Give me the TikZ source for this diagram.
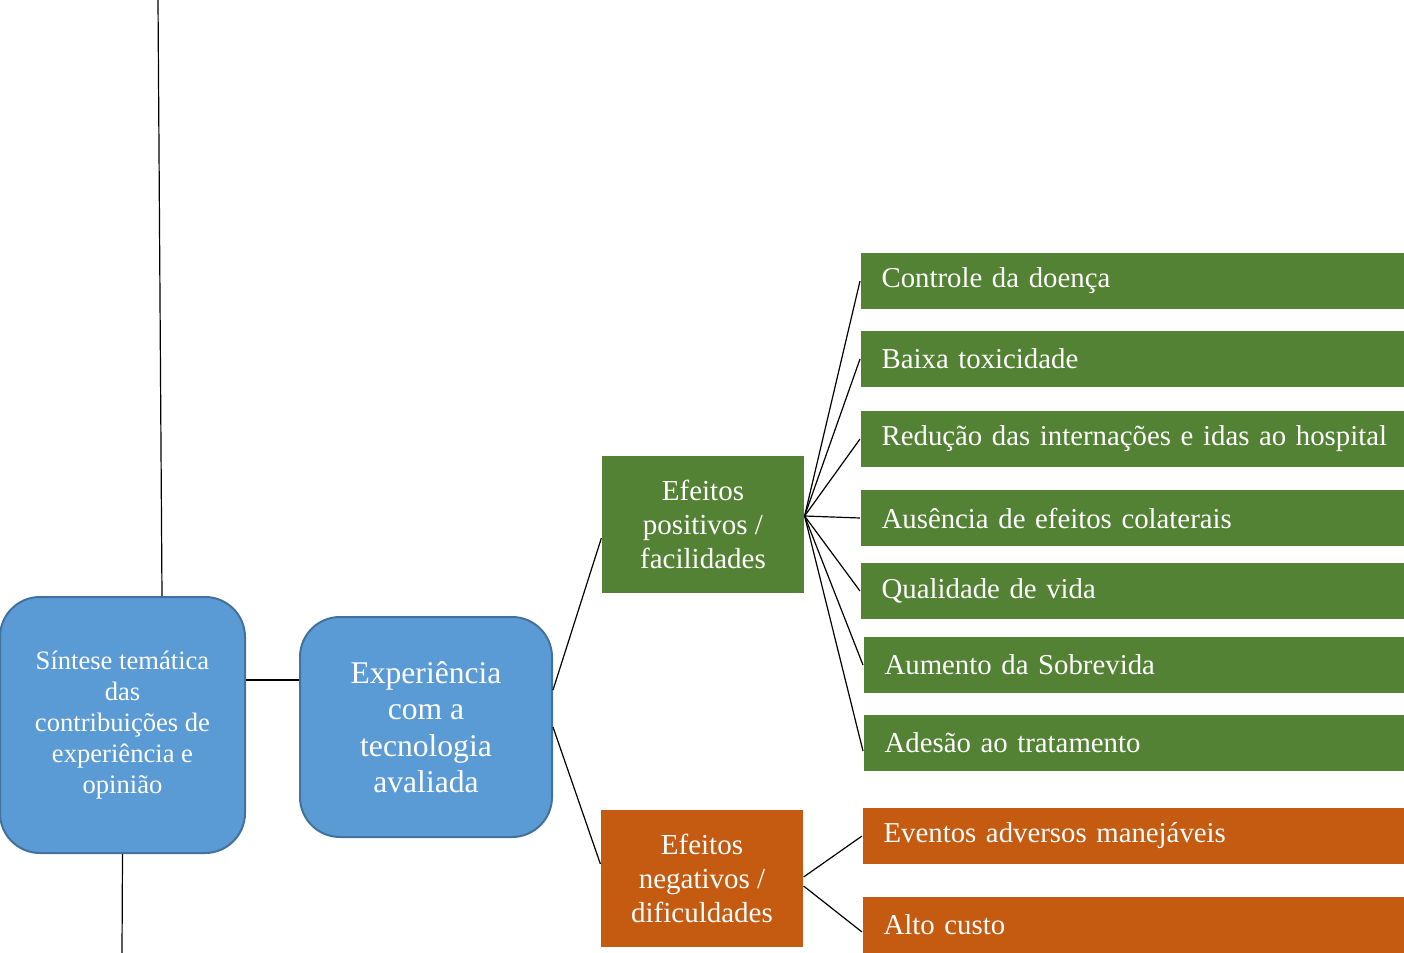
\documentclass[tikz,border=0pt]{standalone}
\usepackage{fontspec}
\setmainfont{Liberation Serif}
\usetikzlibrary{positioning}
\definecolor{bluefill}{HTML}{5B9BD5}
\definecolor{blueline}{HTML}{41719C}
\definecolor{posgreen}{HTML}{548235}
\definecolor{negorange}{HTML}{C55A11}

\begin{document}
\begin{tikzpicture}[x=0.5pt,y=-0.5pt,line width=0.6pt]
  \tikzstyle{bluebox}=[draw=blueline,fill=bluefill,line width=1pt,rounded corners=20pt,text=white,align=center]
  \tikzstyle{midbox}=[text=white,align=center,minimum width=101pt,minimum height=68.5pt,font=\fontsize{14.5}{17}\selectfont]
  \tikzstyle{itembox}=[anchor=west,text=white,text width=256pt,inner xsep=10.5pt,minimum height=28pt,align=left,font=\fontsize{14.4}{17}\selectfont]
  \useasboundingbox (0,0) rectangle (1404,953);
  \node[bluebox,minimum width=122.5pt,minimum height=128pt,font=\fontsize{13.3}{15.5}\selectfont] (sint) at (122.5,725)
    {Síntese temática\\das\\contribuições de\\experiência e\\opinião};
  \node[bluebox,minimum width=126pt,minimum height=110pt,font=\fontsize{15.8}{18.25}\selectfont] (exp) at (426,727)
    {Experiência\\com a\\tecnologia\\avaliada};
  \node[midbox,fill=posgreen] (pos) at (703,524.5) {Efeitos\\positivos /\\facilidades};
  \node[midbox,fill=negorange] (neg) at (702,878.5) {Efeitos\\negativos /\\dificuldades};
  \node[itembox,fill=posgreen] (controle) at (860,281) {Controle da doença};
  \node[itembox,fill=posgreen] (baixa) at (860,359) {Baixa toxicidade};
  \node[itembox,fill=posgreen] (reducao) at (860,439) {Redução das internações e idas ao hospital};
  \node[itembox,fill=posgreen] (ausencia) at (860,518) {Ausência de efeitos colaterais};
  \node[itembox,fill=posgreen] (qualidade) at (860,591) {Qualidade de vida};
  \node[itembox,fill=posgreen] (aumento) at (863,665) {Aumento da Sobrevida};
  \node[itembox,fill=posgreen] (adesao) at (863,743) {Adesão ao tratamento};
  \node[itembox,fill=negorange] (eventos) at (862,836) {Eventos adversos manejáveis};
  \node[itembox,fill=negorange] (custo) at (862,924.5) {Alto custo};
  \coordinate (topend) at (158,0);
  \coordinate (botend) at (122,953);
  % ligacoes
  \draw ([xshift=19.75pt]sint.north) -- (topend);
  \draw (sint.south) -- (botend);
  \draw ([yshift=22.5pt]sint.east) -- ([yshift=23.5pt]exp.west);
  \draw ([yshift=18.5pt]exp.east) -- ([yshift=-6.75pt]pos.west);
  \draw (exp.east) -- ([yshift=7.25pt]neg.west);
  \foreach \item in {controle,baixa,reducao,ausencia,qualidade,aumento}
    \draw ([yshift=4.25pt]pos.east) -- (\item.west);
  \draw ([yshift=4.25pt]pos.east) -- ([yshift=-4pt]adesao.west);
  \draw ([yshift=0.75pt]neg.east) -- (eventos.west);
  \draw ([yshift=-3.75pt]neg.east) -- ([yshift=-3.75pt]custo.west);
\end{tikzpicture}
\end{document}
